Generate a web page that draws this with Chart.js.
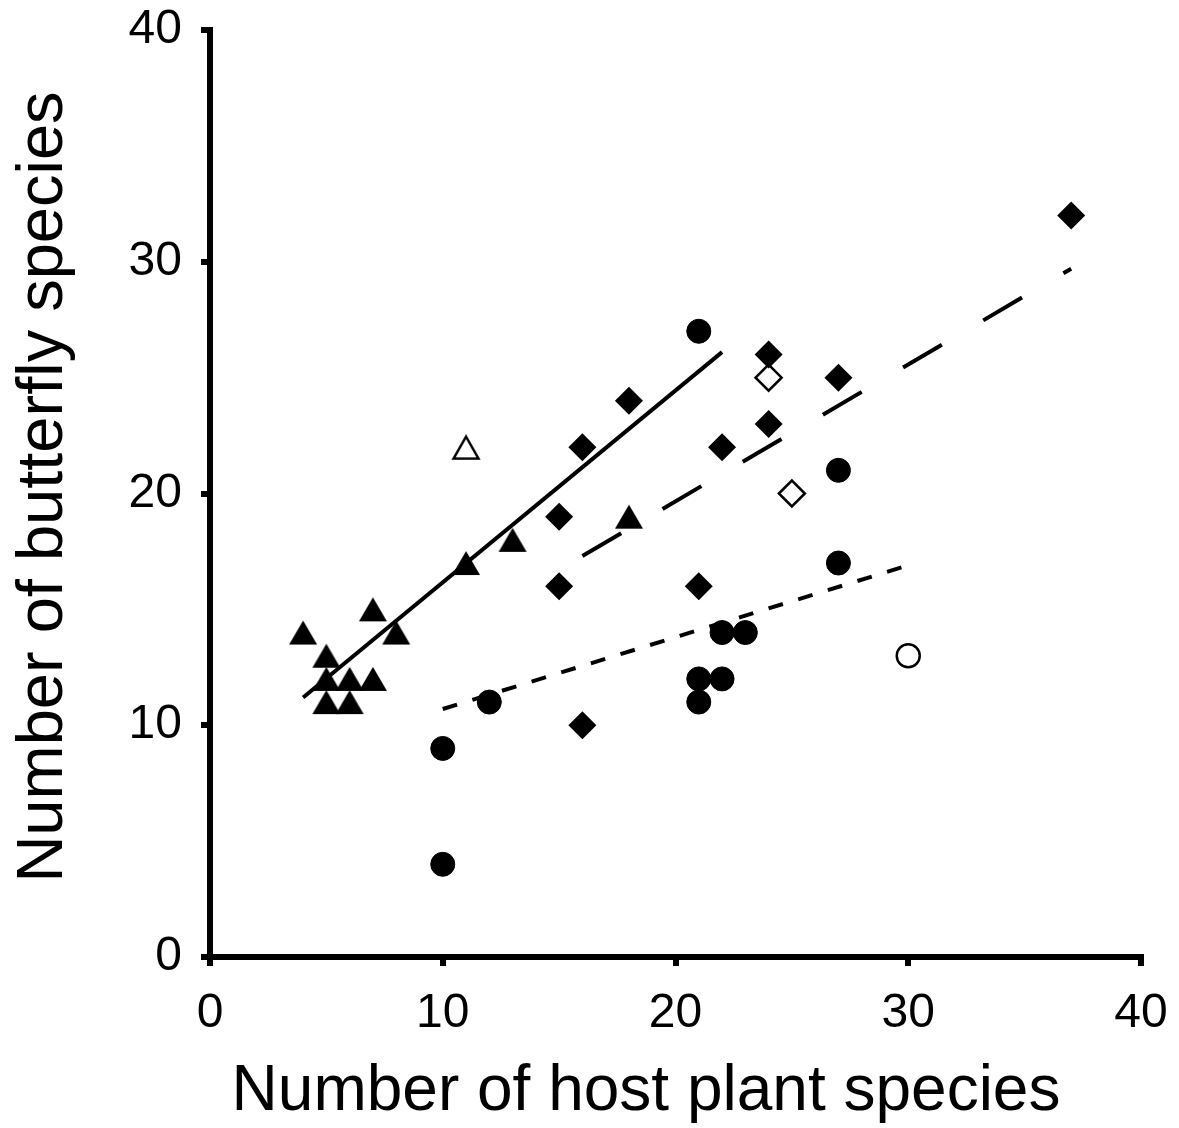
<!DOCTYPE html>
<html>
<head>
<meta charset="utf-8">
<script src="https://cdn.jsdelivr.net/npm/chart.js@4/dist/chart.umd.min.js"></script>
<style>
  html, body { margin: 0; padding: 0; background: #fff; }
  #wrap { width: 1179px; height: 1128px; }
</style>
</head>
<body>
<div id="wrap"><canvas id="hostChart"></canvas></div>
<script>
// values
const triangleX = [4, 5, 5, 5, 6, 6, 7, 7, 8, 11, 13, 18];
const triangleY = [14, 13, 12, 11, 12, 11, 15, 12, 14, 17, 18, 19];
const openTriangleX = [11];
const openTriangleY = [22];

const circleX = [10, 10, 12, 21, 21, 21, 22, 22, 23, 27, 27];
const circleY = [9, 4, 11, 27, 12, 11, 14, 12, 14, 21, 17];
const openCircleX = [30];
const openCircleY = [13];

const diamondX = [15, 15, 16, 16, 18, 21, 22, 24, 24, 27, 37];
const diamondY = [19, 16, 22, 10, 24, 16, 22, 26, 23, 25, 32];
const openDiamondX = [24, 25];
const openDiamondY = [25, 20];

// fitted lines (end points)
const solidFitX = [4, 22];
const solidFitY = [11.2, 26.1];
const dashedFitX = [16, 37];
const dashedFitY = [17.3, 29.7];
const dottedFitX = [10, 30];
const dottedFitY = [10.7, 16.9];

const xTitle = 'Number of host plant species';
const yTitle = 'Number of butterfly species';

const pts = (xs, ys) => xs.map((x, i) => ({ x, y: ys[i] }));

// triangle marker centred on its bounding box
function triangleMarker(open) {
    const c = document.createElement('canvas');
    c.width = 30;
    c.height = 26;
    const g = c.getContext('2d');
    g.beginPath();
    if (open) {
        g.moveTo(15, 2.5);
        g.lineTo(27.5, 24.5);
        g.lineTo(2.5, 24.5);
    } else {
        g.moveTo(15, 1);
        g.lineTo(29, 25);
        g.lineTo(1, 25);
    }
    g.closePath();
    if (open) {
        g.fillStyle = '#fff';
        g.fill();
        g.lineWidth = 2.5;
        g.strokeStyle = '#000';
        g.stroke();
    } else {
        g.fillStyle = '#000';
        g.fill();
    }
    return c;
}

const axisTitles = {
    id: 'axisTitles',
    afterDraw(chart) {
        const ctx = chart.ctx;
        ctx.save();
        ctx.fillStyle = '#000';
        ctx.textAlign = 'center';
        ctx.textBaseline = 'alphabetic';
        ctx.font = '64px "Liberation Sans", Arial, sans-serif';
        ctx.fillText(xTitle, 646, 1110);
        ctx.font = '65px "Liberation Sans", Arial, sans-serif';
        ctx.translate(62, 487);
        ctx.rotate(-Math.PI / 2);
        ctx.fillText(yTitle, 0, 0);
        ctx.restore();
    }
};

// fixed axis size, and no extra room kept for the end labels
const fixSize = (prop, size) => (scale) => {
    scale[prop] = size;
    scale.paddingTop = 0;
    scale.paddingBottom = 0;
    scale.paddingLeft = 0;
    scale.paddingRight = 0;
};

const axis = (fit) => ({
    type: 'linear',
    min: 0,
    max: 40,
    ticks: {
        stepSize: 10,
        color: '#000',
        padding: 19,
        maxRotation: 0,
        font: { size: 48 }
    },
    grid: {
        drawOnChartArea: false,
        drawTicks: true,
        tickLength: 9,
        tickWidth: 6,
        tickColor: '#000',
        color: '#000',
        lineWidth: 6
    },
    border: { display: true, color: '#000', width: 6 },
    afterFit: fit
});

Chart.defaults.font.family = '"Liberation Sans", Arial, sans-serif';

new Chart(document.getElementById('hostChart'), {
    type: 'scatter',
    data: {
        datasets: [
            {
                data: pts(solidFitX, solidFitY),
                showLine: true,
                borderColor: '#000',
                borderWidth: 4,
                pointRadius: 0
            },
            {
                data: pts(dashedFitX, dashedFitY),
                showLine: true,
                borderColor: '#000',
                borderWidth: 4,
                borderDash: [45, 48],
                pointRadius: 0
            },
            {
                data: pts(dottedFitX, dottedFitY),
                showLine: true,
                borderColor: '#000',
                borderWidth: 4,
                borderDash: [15, 16],
                pointRadius: 0
            },
            {
                data: pts(triangleX, triangleY),
                pointStyle: triangleMarker(false),
                pointRadius: 14
            },
            {
                data: pts(openTriangleX, openTriangleY),
                pointStyle: triangleMarker(true),
                pointRadius: 14
            },
            {
                data: pts(circleX, circleY),
                pointStyle: 'circle',
                pointRadius: 12,
                backgroundColor: '#000',
                borderColor: '#000',
                borderWidth: 1
            },
            {
                data: pts(openCircleX, openCircleY),
                pointStyle: 'circle',
                pointRadius: 11.5,
                backgroundColor: '#fff',
                borderColor: '#000',
                borderWidth: 2.5
            },
            {
                data: pts(diamondX, diamondY),
                pointStyle: 'rectRot',
                pointRadius: 14,
                backgroundColor: '#000',
                borderColor: '#000',
                borderWidth: 0
            },
            {
                data: pts(openDiamondX, openDiamondY),
                pointStyle: 'rectRot',
                pointRadius: 13,
                backgroundColor: '#fff',
                borderColor: '#000',
                borderWidth: 2.5
            }
        ]
    },
    options: {
        responsive: true,
        maintainAspectRatio: false,
        animation: false,
        layout: {
            padding: { top: 30, right: 38, bottom: 0, left: 0 }
        },
        scales: {
            x: axis(fixSize('height', 171)),
            y: axis(fixSize('width', 210))
        },
        plugins: {
            legend: { display: false },
            tooltip: { enabled: false }
        }
    },
    plugins: [axisTitles]
});
</script>
</body>
</html>
